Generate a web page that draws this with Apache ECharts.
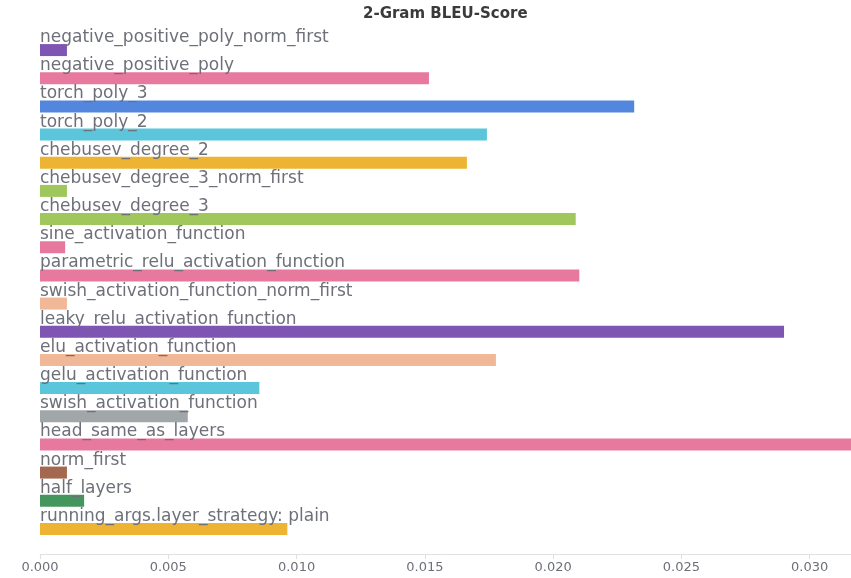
<!DOCTYPE html>
<html>
<head>
<meta charset="utf-8">
<title>2-Gram BLEU-Score</title>
<script src="https://cdn.jsdelivr.net/npm/echarts@6/dist/echarts.min.js"></script>
<style>
  html, body { margin: 0; padding: 0; background: #fff; }
  #chart { width: 851px; height: 578px; }
</style>
</head>
<body>
<div id="chart"></div>
<script>
// runs, top to bottom
var runNames = [
    'negative_positive_poly_norm_first',
    'negative_positive_poly',
    'torch_poly_3',
    'torch_poly_2',
    'chebusev_degree_2',
    'chebusev_degree_3_norm_first',
    'chebusev_degree_3',
    'sine_activation_function',
    'parametric_relu_activation_function',
    'swish_activation_function_norm_first',
    'leaky_relu_activation_function',
    'elu_activation_function',
    'gelu_activation_function',
    'swish_activation_function',
    'head_same_as_layers',
    'norm_first',
    'half_layers',
    'running_args.layer_strategy: plain'
];
// 2-gram bleu per run
var bleu2 = [
    0.00105, 0.01516, 0.02316, 0.01742, 0.01664, 0.00105,
    0.02088, 0.00098, 0.02102, 0.00105, 0.02900, 0.01777,
    0.00855, 0.00576, 0.03180, 0.00105, 0.00172, 0.00964
];
var xTicks = [0, 0.005, 0.01, 0.015, 0.02, 0.025, 0.03];

var barColors = [
    '#7e55b2', '#e8799e', '#5387dd', '#5bc5dc', '#ecb432', '#9fc75b',
    '#9fc75b', '#e8799e', '#e8799e', '#f1b897', '#7e55b2', '#f1b897',
    '#5bc5dc', '#a1a6a9', '#e8799e', '#a4674f', '#45965d', '#ecb432'
];

var chart = echarts.init(document.getElementById('chart'));

var barData = bleu2.map(function (v, i) {
    return { value: v, itemStyle: { color: barColors[i] } };
});

var option = {
    animation: false,
    title: {
        text: '2-Gram BLEU-Score',
        left: 358,
        top: 2,
        textStyle: {
            fontFamily: 'DejaVu Sans',
            fontSize: 15,
            fontWeight: 'bold',
            color: '#3a3a3a'
        }
    },
    grid: {
        left: 40,
        top: 36,
        height: 507,
        width: 821,
        outerBoundsMode: 'none',
        containLabel: false
    },
    xAxis: {
        type: 'value',
        min: 0,
        max: 0.032,
        interval: 0.005,
        offset: 11,
        axisLine: { show: true, lineStyle: { color: '#e0e0e0' } },
        axisTick: { show: true, length: 5, lineStyle: { color: '#e0e0e0' } },
        splitLine: { show: false },
        axisLabel: {
            fontFamily: 'DejaVu Sans',
            fontSize: 13,
            color: '#6e7079',
            margin: 7,
            formatter: function (v) {
                return xTicks.indexOf(Math.round(v * 1000) / 1000) >= 0 ? v.toFixed(3) : '';
            }
        }
    },
    yAxis: {
        type: 'category',
        inverse: true,
        data: runNames,
        axisLine: { show: false },
        axisTick: { show: false },
        axisLabel: { show: false }
    },
    series: [{
        type: 'bar',
        barWidth: 12,
        data: barData,
        label: {
            show: true,
            formatter: '{b}',
            position: [0, 2],
            align: 'left',
            verticalAlign: 'bottom',
            fontFamily: 'DejaVu Sans',
            fontSize: 17,
            color: '#6e7079'
        }
    }]
};

chart.setOption(option);
</script>
</body>
</html>
